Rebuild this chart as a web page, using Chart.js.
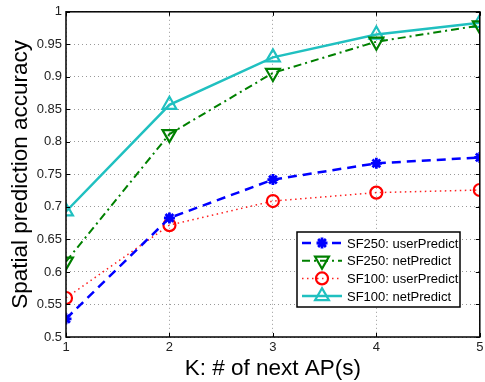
<!DOCTYPE html>
<html><head><meta charset="utf-8">
<script src="https://cdn.jsdelivr.net/npm/chart.js@4"></script>
<style>html,body{margin:0;padding:0;background:#fff;overflow:hidden;}#wrap{width:485px;height:382px;overflow:hidden;}</style>
</head><body><div id="wrap"><canvas id="c" width="490" height="382"></canvas></div>
<script>
const categories = [1, 2, 3, 4, 5];
const sf250User = [0.528, 0.683, 0.742, 0.767, 0.776];
const sf250Net = [0.616, 0.812, 0.906, 0.954, 0.979];
const sf100User = [0.560, 0.672, 0.709, 0.722, 0.726];
const sf100Net = [0.693, 0.857, 0.930, 0.965, 0.983];
const yTicks = [0.5, 0.55, 0.6, 0.65, 0.7, 0.75, 0.8, 0.85, 0.9, 0.95, 1];
const labels = ['SF250: userPredict', 'SF250: netPredict', 'SF100: userPredict', 'SF100: netPredict'];

const FONT = "'Liberation Sans', Arial, Helvetica, sans-serif";
const pts = arr => categories.map((x, i) => ({x: x, y: arr[i]}));

const boxPlugin = {
  id: 'box',
  afterDatasetsDraw(chart) {
    const {ctx, chartArea: a} = chart;
    ctx.save();
    ctx.strokeStyle = '#000'; ctx.lineWidth = 1;
    const xs = chart.scales.x, ys = chart.scales.y;
    ctx.beginPath();
    categories.forEach(v => {
      const px = Math.round(xs.getPixelForValue(v)) + 0.5;
      ctx.moveTo(px, a.bottom); ctx.lineTo(px, a.bottom - 4);
      ctx.moveTo(px, a.top); ctx.lineTo(px, a.top + 4);
    });
    yTicks.forEach(v => {
      const py = Math.round(ys.getPixelForValue(v)) + 0.5;
      ctx.moveTo(a.left, py); ctx.lineTo(a.left + 4, py);
      ctx.moveTo(a.right, py); ctx.lineTo(a.right - 4, py);
    });
    ctx.stroke();
    ctx.lineWidth = 1.5;
    ctx.strokeRect(a.left, a.top, a.right - a.left, a.bottom - a.top);
    ctx.restore();
  },
  afterDraw(chart) {
    const {ctx} = chart;
    const bx = 297, by = 232, bw = 163, bh = 75;
    ctx.save();
    ctx.fillStyle = '#fff';
    ctx.fillRect(bx, by, bw, bh);
    ctx.strokeStyle = '#000'; ctx.lineWidth = 1.5;
    ctx.strokeRect(bx, by, bw, bh);
    chart.data.datasets.forEach((ds, i) => {
      const cy = by + 11 + i * 17.7;
      ctx.save();
      ctx.strokeStyle = ds.borderColor;
      ctx.lineWidth = ds.borderWidth;
      ctx.setLineDash(ds.borderDash || []);
      ctx.beginPath(); ctx.moveTo(bx + 5, cy); ctx.lineTo(bx + 45, cy); ctx.stroke();
      ctx.setLineDash([]);
      ctx.lineWidth = ds.pointBorderWidth;
      ctx.strokeStyle = ds.pointBorderColor;
      ctx.fillStyle = 'rgba(0,0,0,0)';
      Chart.helpers.drawPoint(ctx, {pointStyle: ds.pointStyle, rotation: ds.pointRotation || 0, radius: ds.pointRadius, borderWidth: ds.pointBorderWidth}, bx + 25, cy);
      ctx.restore();
      ctx.fillStyle = '#000';
      ctx.font = '13px ' + FONT;
      ctx.textBaseline = 'middle';
      ctx.fillText(labels[i], bx + 50, cy + 1);
    });
    ctx.restore();
  }
};

const common = {fill: false, tension: 0, pointBackgroundColor: 'rgba(0,0,0,0)'};

new Chart(document.getElementById('c'), {
  type: 'line',
  data: {
    datasets: [
      Object.assign({}, common, {label: labels[0], data: pts(sf250User), borderColor: '#0000ff', pointBorderColor: '#0000ff', borderWidth: 2.5, borderDash: [9, 6], pointStyle: 'star', pointRadius: 5.5, pointBorderWidth: 2.8}),
      Object.assign({}, common, {label: labels[1], data: pts(sf250Net), borderColor: '#008000', pointBorderColor: '#008000', borderWidth: 2, borderDash: [8, 4, 2, 4], pointStyle: 'triangle', pointRotation: 180, pointRadius: 8, pointBorderWidth: 2.2}),
      Object.assign({}, common, {label: labels[2], data: pts(sf100User), borderColor: '#ff2020', pointBorderColor: '#ff0000', borderWidth: 1.5, borderDash: [1.5, 3.5], pointStyle: 'circle', pointRadius: 6, pointBorderWidth: 2.2}),
      Object.assign({}, common, {label: labels[3], data: pts(sf100Net), borderColor: '#20c0c0', pointBorderColor: '#20c0c0', borderWidth: 2.5, pointStyle: 'triangle', pointRadius: 8, pointBorderWidth: 2.2})
    ]
  },
  options: {
    responsive: false,
    animation: false,
    layout: {padding: {top: 10, right: 0, left: 0, bottom: 0}},
    plugins: {legend: {display: false}, tooltip: {enabled: false}},
    scales: {
      x: {
        type: 'linear', min: 1, max: 5,
        afterBuildTicks: s => { s.ticks = categories.map(v => ({value: v})); },
        afterFit: s => { s.height = 45; },
        grid: {color: '#999', lineWidth: 1, drawTicks: false},
        border: {display: false, dash: [1, 3]},
        ticks: {color: '#222', font: {family: FONT, size: 13}, padding: 3, callback: v => String(v)},
        title: {display: true, text: 'K: # of next AP(s)', color: '#000', font: {family: FONT, size: 22.5}, padding: {top: 0, bottom: 0}}
      },
      y: {
        type: 'linear', min: 0.5, max: 1,
        afterBuildTicks: s => { s.ticks = yTicks.map(v => ({value: v})); },
        afterFit: s => { s.width = 66; },
        grid: {color: '#999', lineWidth: 1, drawTicks: false},
        border: {display: false, dash: [1, 3]},
        ticks: {color: '#222', font: {family: FONT, size: 13}, padding: 4, callback: v => String(parseFloat(v.toFixed(2)))},
        title: {display: true, text: 'Spatial prediction accuracy', color: '#000', font: {family: FONT, size: 22.5}, padding: {top: 7, bottom: 0}}
      }
    }
  },
  plugins: [boxPlugin]
});
</script></body></html>
